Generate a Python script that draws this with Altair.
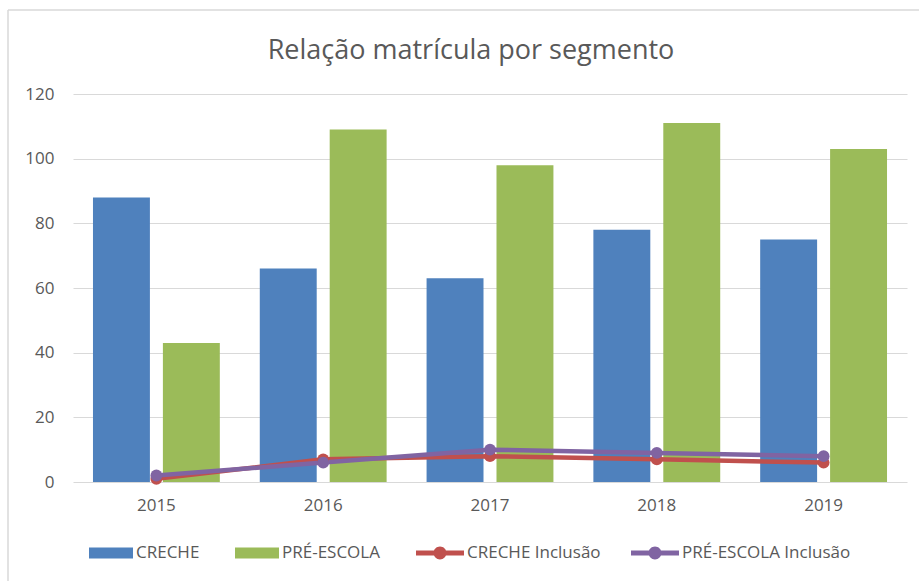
import altair as alt
import pandas as pd

anos = ["2015", "2016", "2017", "2018", "2019"]
creche = [88, 66, 63, 78, 75]
pre_escola = [43, 109, 98, 111, 103]
creche_inclusao = [1, 7, 8, 7, 6]
pre_escola_inclusao = [2, 6, 10, 9, 8]

bar_series = ["CRECHE", "PRÉ-ESCOLA"]
line_series = ["CRECHE Inclusão", "PRÉ-ESCOLA Inclusão"]
bar_colors = ["#4F81BD", "#9BBB59"]
line_colors = ["#C0504D", "#8064A2"]

bars_df = pd.DataFrame({
    "ano": anos * 2,
    "serie": [bar_series[0]] * len(anos) + [bar_series[1]] * len(anos),
    "valor": creche + pre_escola,
})
lines_df = pd.DataFrame({
    "ano": anos * 2,
    "serie": [line_series[0]] * len(anos) + [line_series[1]] * len(anos),
    "valor": creche_inclusao + pre_escola_inclusao,
})

FONT = "Open Sans"
TXT = "#595959"
GRID = "#D9D9D9"

x = alt.X("ano:N", sort=anos,
          scale=alt.Scale(paddingInner=0, paddingOuter=0),
          axis=alt.Axis(title=None, labelAngle=0, domain=False, ticks=False,
                        labelPadding=15, labelFontSize=17, labelColor=TXT,
                        labelFont=FONT, grid=False))
y = alt.Y("valor:Q", scale=alt.Scale(domain=[0, 120]),
          axis=alt.Axis(title=None, values=[0, 20, 40, 60, 80, 100, 120],
                        domain=False, ticks=False, labelPadding=19,
                        labelFontSize=17, labelColor=TXT, labelFont=FONT,
                        gridColor=GRID, gridWidth=1))

rect_path = "M-1,-0.25H1V0.25H-1Z"
line_path = ("M-1,-0.1H1V0.1H-1Z "
             "M-0.27,0A0.27,0.27 0 1,1 0.27,0A0.27,0.27 0 1,1 -0.27,0Z")

bars = alt.Chart(bars_df).mark_bar().encode(
    x=x, y=y,
    xOffset=alt.XOffset("serie:N", sort=bar_series,
                        scale=alt.Scale(paddingInner=13 / 70, paddingOuter=20 / 70)),
    color=alt.Color("serie:N", sort=bar_series,
                    scale=alt.Scale(domain=bar_series, range=bar_colors),
                    legend=alt.Legend(title=None, orient="none", legendX=16, legendY=437,
                                      direction="horizontal", symbolType=rect_path,
                                      symbolSize=1936, symbolStrokeWidth=0,
                                      labelFontSize=17, labelColor=TXT, labelFont=FONT,
                                      columnPadding=35, labelOffset=3, labelLimit=400)),
)

lines = alt.Chart(lines_df).mark_line(strokeWidth=4.5).encode(
    x=x, y=y,
    stroke=alt.Stroke("serie:N", sort=line_series,
                      scale=alt.Scale(domain=line_series, range=line_colors),
                      legend=None),
)

points = alt.Chart(lines_df).mark_circle(size=140, opacity=1).encode(
    x=x, y=y,
    fill=alt.Fill("serie:N", sort=line_series,
                  scale=alt.Scale(domain=line_series, range=line_colors),
                  legend=alt.Legend(title=None, orient="none", legendX=343, legendY=435,
                                    direction="horizontal", symbolType=line_path,
                                    symbolSize=2304, symbolStrokeWidth=0,
                                    symbolOpacity=1,
                                    labelFontSize=17, labelColor=TXT, labelFont=FONT,
                                    columnPadding=30, labelOffset=3, labelLimit=400)),
)

frame_df = pd.DataFrame({"k": [0]})
top_border = alt.Chart(frame_df).mark_rule(color=GRID, strokeWidth=1.5).encode(
    x=alt.value(-65), x2=alt.value(846), y=alt.value(-84))
left_border = alt.Chart(frame_df).mark_rule(color=GRID, strokeWidth=1.5).encode(
    x=alt.value(-65), y=alt.value(-84), y2=alt.value(487))

chart = alt.layer(top_border, left_border, bars, lines, points).resolve_scale(
    color="independent", fill="independent"
).properties(
    width=834, height=388,
    padding={"left": 73, "top": 94, "right": 12, "bottom": 99},
    autosize="none",
    background="white",
    title=alt.Title("Relação matrícula por segmento", fontSize=27, font=FONT,
                    fontWeight="normal", color=TXT, baseline="alphabetic",
                    offset=-77, dx=-19),
).configure_view(stroke=None)

chart.save("out.html", embed_options={"renderer": "svg", "actions": False})
